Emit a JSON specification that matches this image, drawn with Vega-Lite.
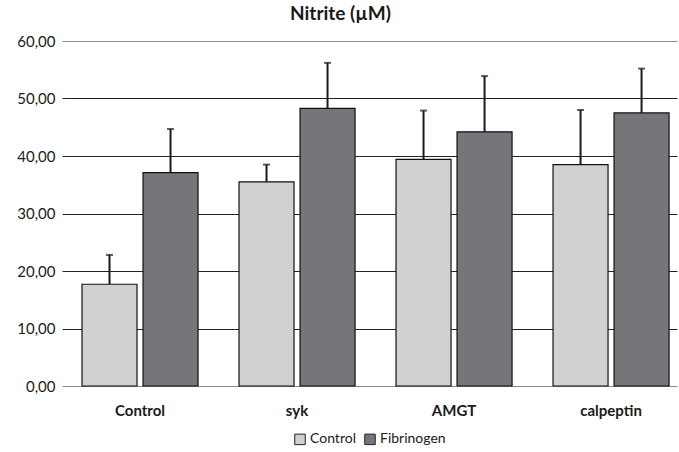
{
  "$schema": "https://vega.github.io/schema/vega-lite/v6.json",
  "width": 615,
  "height": 345,
  "autosize": {"type": "none"},
  "padding": {"left": 62, "top": 41, "right": 2, "bottom": 66},
  "background": "white",
  "config": {
    "view": {"stroke": null},
    "font": "Lato",
    "axis": {"labelFont": "Lato", "labelColor": "#1a1a1a"},
    "legend": {"layout": {"bottom": {"anchor": "middle"}}}
  },
  "title": {
    "text": "Nitrite (µM)",
    "font": "Lato",
    "fontSize": 19,
    "fontWeight": "bold",
    "color": "#1a1a1a",
    "anchor": "middle",
    "dx": -29,
    "offset": 10
  },
  "data": {
    "values": [
      {"group": "Control", "treatment": "Control", "mean": 17.7, "upper": 22.8},
      {"group": "Control", "treatment": "Fibrinogen", "mean": 37.1, "upper": 44.7},
      {"group": "syk", "treatment": "Control", "mean": 35.5, "upper": 38.5},
      {"group": "syk", "treatment": "Fibrinogen", "mean": 48.3, "upper": 56.2},
      {"group": "AMGT", "treatment": "Control", "mean": 39.4, "upper": 47.9},
      {"group": "AMGT", "treatment": "Fibrinogen", "mean": 44.2, "upper": 53.9},
      {"group": "calpeptin", "treatment": "Control", "mean": 38.5, "upper": 48.0},
      {"group": "calpeptin", "treatment": "Fibrinogen", "mean": 47.5, "upper": 55.2}
    ]
  },
  "encoding": {
    "x": {
      "field": "group",
      "type": "nominal",
      "sort": ["Control", "syk", "AMGT", "calpeptin"],
      "scale": {"paddingInner": 0.261, "paddingOuter": 0.089, "align": 0.716},
      "axis": {
        "title": null,
        "labelAngle": 0,
        "labelFontSize": 15,
        "labelFontWeight": "bold",
        "labelPadding": 17,
        "ticks": false,
        "domain": false,
        "grid": false
      }
    },
    "xOffset": {
      "field": "treatment",
      "type": "nominal",
      "scale": {"paddingInner": 0.0984, "paddingOuter": 0}
    }
  },
  "layer": [
    {
      "mark": {"type": "bar", "stroke": "#111", "strokeWidth": 1.2},
      "encoding": {
        "y": {
          "field": "mean",
          "type": "quantitative",
          "scale": {"domain": [0, 60]},
          "axis": {
            "title": null,
            "values": [0, 10, 20, 30, 40, 50, 60],
            "labelExpr": "replace(format(datum.value, '.2f'), '.', ',')",
            "labelFontSize": 15,
            "labelPadding": 7,
            "ticks": false,
            "domain": false,
            "grid": true,
            "gridColor": {"condition": {"test": "datum.value == 60 || datum.value == 0", "value": "#8a8a8a"}, "value": "#222"},
            "gridWidth": 1.2,
            "gridOpacity": 1
          }
        },
        "color": {
          "field": "treatment",
          "type": "nominal",
          "scale": {"domain": ["Control", "Fibrinogen"], "range": ["#d1d1d1", "#76767a"]},
          "legend": {
            "title": null,
            "orient": "bottom",
            "direction": "horizontal",
            "symbolType": "square",
            "symbolSize": 110,
            "symbolStrokeColor": "#222",
            "symbolStrokeWidth": 1,
            "labelFontSize": 14,
            "labelColor": "#1a1a1a",
            "columnPadding": 6,
            "symbolOffset": 0,
            "labelOffset": 3,
            "offset": 14
          }
        }
      }
    },
    {
      "mark": {"type": "rule", "color": "#1a1a1a", "strokeWidth": 2},
      "encoding": {
        "y": {"field": "mean", "type": "quantitative"},
        "y2": {"field": "upper"}
      }
    },
    {
      "mark": {"type": "tick", "color": "#1a1a1a", "thickness": 2, "size": 7, "orient": "horizontal"},
      "encoding": {
        "y": {"field": "upper", "type": "quantitative"}
      }
    }
  ]
}
